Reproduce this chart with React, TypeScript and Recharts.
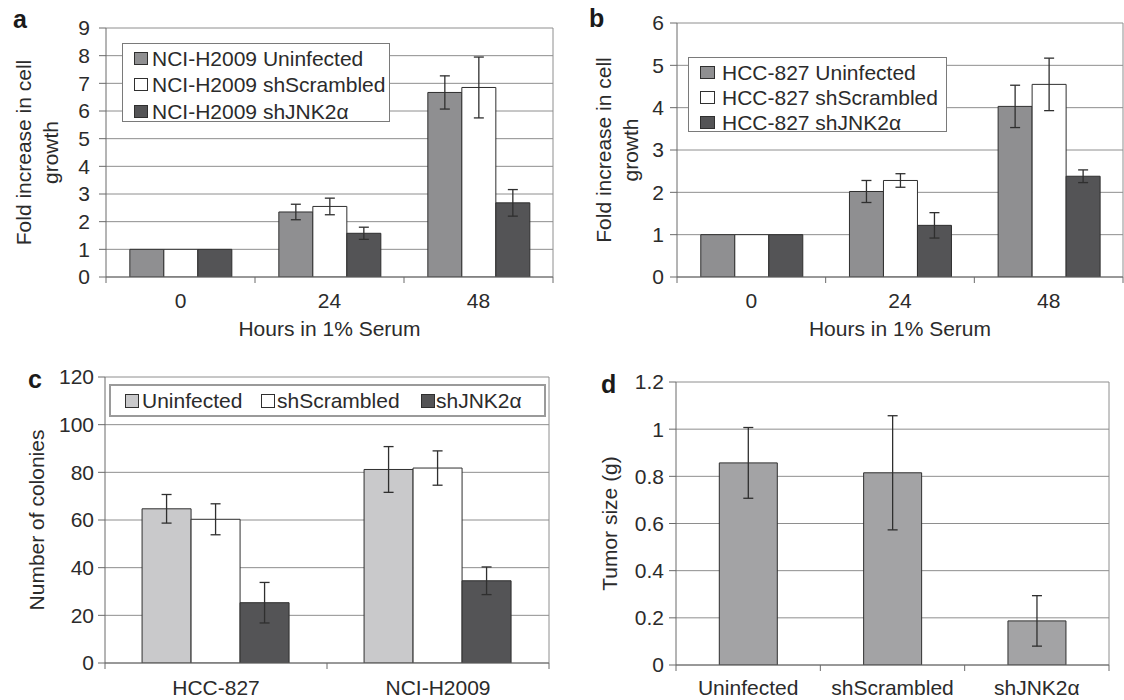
import React from 'react';
import { BarChart, Bar, XAxis, YAxis, CartesianGrid, ErrorBar, Legend } from 'recharts';

// ---------- data ----------
// Panel a: NCI-H2009, fold increase in cell growth
const hourLabels = ['0', '24', '48'];
const h2009Uninfected = [1, 2.35, 6.67];
const h2009UninfectedErr = [0, 0.28, 0.6];
const h2009Scrambled = [1, 2.55, 6.85];
const h2009ScrambledErr = [0, 0.3, 1.1];
const h2009JNK = [1, 1.58, 2.68];
const h2009JNKErr = [0, 0.22, 0.48];
const legendA = ['NCI-H2009 Uninfected', 'NCI-H2009 shScrambled', 'NCI-H2009 shJNK2α'];
const ticksA = [0, 1, 2, 3, 4, 5, 6, 7, 8, 9];

// Panel b: HCC-827, fold increase in cell growth
const hcc827Uninfected = [1, 2.02, 4.03];
const hcc827UninfectedErr = [0, 0.26, 0.5];
const hcc827Scrambled = [1, 2.28, 4.55];
const hcc827ScrambledErr = [0, 0.16, 0.62];
const hcc827JNK = [1, 1.22, 2.38];
const hcc827JNKErr = [0, 0.3, 0.15];
const legendB = ['HCC-827 Uninfected', 'HCC-827 shScrambled', 'HCC-827 shJNK2α'];
const ticksB = [0, 1, 2, 3, 4, 5, 6];

// Panel c: number of colonies
const cellLines = ['HCC-827', 'NCI-H2009'];
const coloniesUninfected = [64.7, 81.2];
const coloniesUninfectedErr = [6, 9.6];
const coloniesScrambled = [60.3, 81.8];
const coloniesScrambledErr = [6.5, 7.2];
const coloniesJNK = [25.3, 34.5];
const coloniesJNKErr = [8.5, 5.8];
const legendC = ['Uninfected', 'shScrambled', 'shJNK2α'];
const ticksC = [0, 20, 40, 60, 80, 100, 120];

// Panel d: tumor size
const tumorGroups = ['Uninfected', 'shScrambled', 'shJNK2α'];
const tumorSize = [0.857, 0.815, 0.187];
const tumorSizeErr = [0.15, 0.242, 0.107];
const ticksD = [0, 0.2, 0.4, 0.6, 0.8, 1, 1.2];

// ---------- styles ----------
const FONT = '"Liberation Sans", Arial, Helvetica, sans-serif';
const TEXT = '#2b2b2b';
const GRID = '#8e8e8e';
const AXIS = '#6a6a6a';
const EDGE = '#2f2f2f';
const MID_GRAY = '#8f8f91';
const DARK_GRAY = '#545456';
const LIGHT_GRAY = '#c9c9cb';
const TUMOR_GRAY = '#a3a3a5';
const WHITE = '#ffffff';
const FS = 21;

const groupColors = [MID_GRAY, WHITE, DARK_GRAY];
const colonyColors = [LIGHT_GRAY, WHITE, DARK_GRAY];

const buildRows = (cats: string[], vals: number[][], errs: number[][]) =>
  cats.map((c, i) => {
    const row: any = { name: c };
    vals.forEach((v, k) => {
      row['v' + k] = v[i];
      row['e' + k] = errs[k][i];
    });
    return row;
  });

const dataA = buildRows(hourLabels, [h2009Uninfected, h2009Scrambled, h2009JNK], [h2009UninfectedErr, h2009ScrambledErr, h2009JNKErr]);
const dataB = buildRows(hourLabels, [hcc827Uninfected, hcc827Scrambled, hcc827JNK], [hcc827UninfectedErr, hcc827ScrambledErr, hcc827JNKErr]);
const dataC = buildRows(cellLines, [coloniesUninfected, coloniesScrambled, coloniesJNK], [coloniesUninfectedErr, coloniesScrambledErr, coloniesJNKErr]);
const dataD = buildRows(tumorGroups, [tumorSize], [tumorSizeErr]);

// ---------- helpers ----------
const makeXTick = (n: number, plotW: number, labelDy: number) => (props: any) => {
  const { x, y, payload } = props;
  const half = payload && typeof payload.offset === 'number' && payload.offset > 0 ? payload.offset : plotW / n / 2;
  const idx = props.index ?? payload?.index ?? 0;
  return (
    <g>
      <line x1={x - half} x2={x - half} y1={y} y2={y + 6} stroke={AXIS} strokeWidth={1} />
      {idx === n - 1 ? <line x1={x + half} x2={x + half} y1={y} y2={y + 6} stroke={AXIS} strokeWidth={1} /> : null}
      <text x={x} y={y + labelDy} textAnchor="middle" fontSize={FS} fill={TEXT} fontFamily={FONT}>
        {payload.value}
      </text>
    </g>
  );
};

const makeYTitle = (lines: string[], xs: number[], cy: number, letter: string, lx: number, ly: number) => () => (
  <g>
    {lines.map((ln, i) => (
      <text
        key={i}
        x={xs[i]}
        y={cy}
        transform={`rotate(-90 ${xs[i]} ${cy})`}
        textAnchor="middle"
        dominantBaseline="central"
        fontSize={FS}
        fill={TEXT}
        fontFamily={FONT}
      >
        {ln}
      </text>
    ))}
    <text x={lx} y={ly} fontSize={25} fontWeight="bold" fill="#1a1a1a" fontFamily={FONT}>
      {letter}
    </text>
  </g>
);

const makeXTitle = (title: string, cx: number, by: number) => () => (
  <text x={cx} y={by} textAnchor="middle" fontSize={FS} fill={TEXT} fontFamily={FONT}>
    {title}
  </text>
);

const Swatch = ({ fill, w = 14, h = 13 }: { fill: string; w?: number; h?: number }) => (
  <span
    style={{
      display: 'inline-block',
      width: w,
      height: h,
      boxSizing: 'border-box',
      border: `1px solid ${EDGE}`,
      background: fill,
      flex: 'none',
    }}
  />
);

const StackLegend = (names: string[], colors: string[], w: number, h: number, padTop: number, rowH: number, swLeft: number, swW: number, gap: number) => () => (
  <div
    style={{
      width: w,
      height: h,
      boxSizing: 'border-box',
      border: '1px solid #7a7a7a',
      background: '#fff',
      paddingTop: padTop,
      fontFamily: FONT,
      fontSize: FS,
      color: TEXT,
    }}
  >
    {names.map((nm, i) => (
      <div key={nm} style={{ height: rowH, display: 'flex', alignItems: 'center', paddingLeft: swLeft, whiteSpace: 'nowrap' }}>
        <Swatch fill={colors[i]} w={swW} />
        <span style={{ marginLeft: gap, lineHeight: 1 }}>{nm}</span>
      </div>
    ))}
  </div>
);

const RowLegend = (names: string[], colors: string[], swX: number[], txX: number[], w: number, h: number) => () => (
  <div
    style={{
      position: 'relative',
      width: w,
      height: h,
      boxSizing: 'border-box',
      border: '2px solid #9a9a9a',
      background: '#fff',
      fontFamily: FONT,
      fontSize: FS,
      color: TEXT,
    }}
  >
    {names.map((nm, i) => (
      <React.Fragment key={nm}>
        <span style={{ position: 'absolute', left: swX[i], top: 8, lineHeight: 0 }}>
          <Swatch fill={colors[i]} w={14} h={14} />
        </span>
        <span style={{ position: 'absolute', left: txX[i], top: 3, lineHeight: '24px', whiteSpace: 'nowrap' }}>{nm}</span>
      </React.Fragment>
    ))}
  </div>
);

const rightBorder = (p: any) => {
  const o = p && p.offset ? p.offset : null;
  return o ? [o.left + o.width] : [];
};

// ---------- panel ----------
type PanelProps = {
  left: number;
  top: number;
  width: number;
  height: number;
  data: any[];
  nSeries: number;
  colors: string[];
  marginTop: number;
  marginRight: number;
  yWidth: number;
  xHeight: number;
  domain: [number, number];
  ticks: number[];
  gap: string;
  tickMargin: number;
  xLabelDy: number;
  yTitle: () => React.ReactElement;
  xTitle?: () => React.ReactElement;
  legend?: () => React.ReactElement;
  legendPos?: { left: number; top: number; width: number; height: number };
};

const Panel = (p: PanelProps) => {
  const plotW = p.width - p.yWidth - p.marginRight;
  const n = p.data.length;
  return (
    <div style={{ position: 'absolute', left: p.left, top: p.top, width: p.width, height: p.height }}>
      <BarChart
        width={p.width}
        height={p.height}
        data={p.data}
        margin={{ top: p.marginTop, right: p.marginRight, bottom: 0, left: 0 }}
        barGap={0}
        barCategoryGap={p.gap}
      >
        <CartesianGrid stroke={GRID} strokeWidth={1} vertical={true} verticalCoordinatesGenerator={rightBorder} />
        <XAxis
          dataKey="name"
          height={p.xHeight}
          axisLine={{ stroke: AXIS, strokeWidth: 1 }}
          tickLine={false}
          tickSize={0}
          tickMargin={0}
          interval={0}
          tick={makeXTick(n, plotW, p.xLabelDy)}
          label={p.xTitle}
        />
        <YAxis
          width={p.yWidth}
          domain={p.domain}
          ticks={p.ticks}
          interval={0}
          allowDataOverflow={true}
          axisLine={{ stroke: AXIS, strokeWidth: 1 }}
          tickLine={{ stroke: AXIS, strokeWidth: 1 }}
          tickSize={7}
          tickMargin={p.tickMargin}
          tick={{ fontSize: FS, fill: TEXT, fontFamily: FONT }}
          label={p.yTitle}
        />
        {p.legend ? (
          <Legend
            layout="horizontal"
            verticalAlign="middle"
            align="center"
            content={p.legend}
            wrapperStyle={{ ...p.legendPos, margin: 0, padding: 0 }}
          />
        ) : null}
        {Array.from({ length: p.nSeries }).map((_, k) => (
          <Bar key={k} dataKey={'v' + k} fill={p.colors[k]} stroke={EDGE} strokeWidth={1} isAnimationActive={false}>
            <ErrorBar dataKey={'e' + k} width={5} stroke={EDGE} strokeWidth={1.3} direction="y" />
          </Bar>
        ))}
      </BarChart>
    </div>
  );
};

export default function App() {
  return (
    <div style={{ position: 'absolute', left: 0, top: 0, width: 1124, height: 700, background: '#fff', overflow: 'hidden' }}>
      {/* a */}
      <Panel
        left={0}
        top={0}
        width={560}
        height={340}
        data={dataA}
        nSeries={3}
        colors={groupColors}
        marginTop={28}
        marginRight={7}
        yWidth={106}
        xHeight={63}
        domain={[0, 9]}
        ticks={ticksA}
        gap="16%"
        tickMargin={9}
        xLabelDy={31}
        yTitle={makeYTitle(['Fold increase in cell', 'growth'], [23, 50], 152.5, 'a', 13, 28)}
        xTitle={makeXTitle('Hours in 1% Serum', 329.5, 336)}
        legend={StackLegend(legendA, groupColors, 268, 79, 1, 26.5, 11, 14, 4)}
        legendPos={{ left: 122, top: 43, width: 268, height: 79 }}
      />
      {/* b */}
      <Panel
        left={560}
        top={0}
        width={564}
        height={340}
        data={dataB}
        nSeries={3}
        colors={groupColors}
        marginTop={23}
        marginRight={1}
        yWidth={117}
        xHeight={63}
        domain={[0, 6]}
        ticks={ticksB}
        gap="16%"
        tickMargin={6}
        xLabelDy={31}
        yTitle={makeYTitle(['Fold increase in cell', 'growth'], [43, 70], 150, 'b', 29, 27)}
        xTitle={makeXTitle('Hours in 1% Serum', 340, 336)}
        legend={StackLegend(legendB, groupColors, 259, 75, 1.5, 25, 11, 15, 7)}
        legendPos={{ left: 128, top: 57, width: 259, height: 75 }}
      />
      {/* c */}
      <Panel
        left={0}
        top={340}
        width={560}
        height={360}
        data={dataC}
        nSeries={3}
        colors={colonyColors}
        marginTop={37}
        marginRight={11}
        yWidth={105}
        xHeight={37}
        domain={[0, 120]}
        ticks={ticksC}
        gap="16.7%"
        tickMargin={4}
        xLabelDy={32}
        yTitle={makeYTitle(['Number of colonies'], [36], 180, 'c', 28, 48)}
        legend={RowLegend(legendC, colonyColors, [14, 150, 310], [31, 166, 325], 437, 33)}
        legendPos={{ left: 109, top: 44, width: 437, height: 33 }}
      />
      {/* d */}
      <Panel
        left={560}
        top={340}
        width={564}
        height={360}
        data={dataD}
        nSeries={1}
        colors={[TUMOR_GRAY]}
        marginTop={42}
        marginRight={15}
        yWidth={116}
        xHeight={35}
        domain={[0, 1.2]}
        ticks={ticksD}
        gap="30%"
        tickMargin={5}
        xLabelDy={30}
        yTitle={makeYTitle(['Tumor size (g)'], [49], 183.5, 'd', 41, 53)}
      />
    </div>
  );
}
